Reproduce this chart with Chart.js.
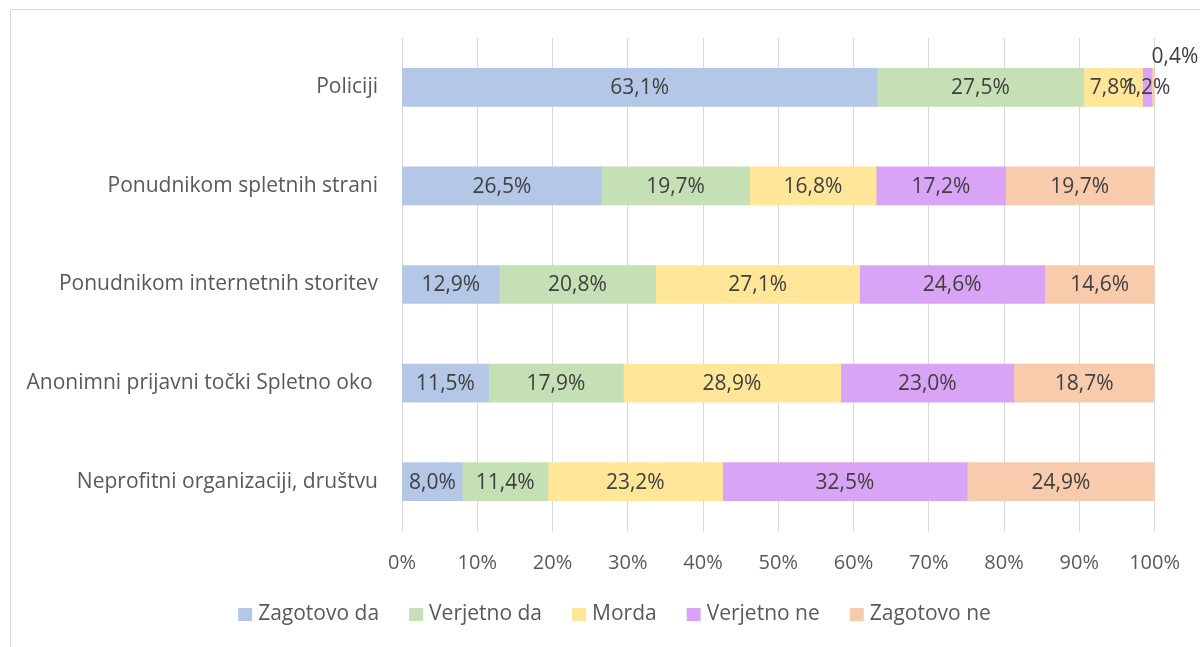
<!DOCTYPE html>
<html><head><meta charset="utf-8">
<script src="https://cdn.jsdelivr.net/npm/chart.js@4.4.1/dist/chart.umd.min.js"></script>
<style>html,body{margin:0;padding:0;background:#fff}#wrap{width:1200px;height:647px;position:relative}</style>
</head><body><div id="wrap"><canvas id="c" width="1200" height="647"></canvas></div>
<script>
const categories = ["Policiji","Ponudnikom spletnih strani","Ponudnikom internetnih storitev","Anonimni prijavni točki Spletno oko ","Neprofitni organizaciji, društvu"];
const seriesNames = ["Zagotovo da","Verjetno da","Morda","Verjetno ne","Zagotovo ne"];
const zagotovoDa = [63.1,26.5,12.9,11.5,8.0];
const verjetnoDa = [27.5,19.7,20.8,17.9,11.4];
const morda = [7.8,16.8,27.1,28.9,23.2];
const verjetnoNe = [1.2,17.2,24.6,23.0,32.5];
const zagotovoNe = [0.4,19.7,14.6,18.7,24.9];
const tickValues = [0,10,20,30,40,50,60,70,80,90,100];
const colors = ["#b4c7e7","#c5e0b4","#ffe699","#d9a4f5","#f8cbad"];
const FONT = "'Open Sans', 'Noto Sans', sans-serif";

const allSeries = [zagotovoDa, verjetnoDa, morda, verjetnoNe, zagotovoNe];
const datasets = allSeries.map((d,i)=>({label:seriesNames[i],data:d,backgroundColor:colors[i],borderWidth:0,barThickness:38}));

const fmt = v => v.toFixed(1).replace('.',',') + '%';

const labelPlugin = {
  id:'labels',
  afterDatasetsDraw(chart){
    const ctx = chart.ctx;
    ctx.save();
    ctx.font = "21px " + FONT;
    ctx.fillStyle = "#404040";
    ctx.textBaseline = "middle";
    chart.data.datasets.forEach((ds,di)=>{
      const meta = chart.getDatasetMeta(di);
      meta.data.forEach((bar,i)=>{
        const v = ds.data[i];
        if (v < 1) {
          ctx.textAlign = "left";
          ctx.fillText(fmt(v), bar.x - 3, bar.y - 30);
        } else {
          ctx.textAlign = "center";
          ctx.fillText(fmt(v), (bar.x + bar.base)/2, bar.y + 1);
        }
      });
    });
    ctx.restore();
  }
};
const legendPlugin = {
  id:'customLegend',
  afterDraw(chart){
    const ctx = chart.ctx;
    ctx.save();
    ctx.font = "21px " + FONT;
    ctx.textBaseline = "middle";
    ctx.textAlign = "left";
    const box = 14, boxH = 13, gapText = 6, gapItem = 30, cx = 614.5, cy = 614.5;
    const items = chart.data.datasets.map(ds=>({t:ds.label,c:ds.backgroundColor,w:ctx.measureText(ds.label).width}));
    const total = items.reduce((s,it)=>s+box+gapText+it.w,0) + gapItem*(items.length-1);
    let x = cx - total/2;
    items.forEach(it=>{
      ctx.fillStyle = it.c;
      ctx.fillRect(x, cy - boxH/2, box, boxH);
      ctx.fillStyle = "#595959";
      ctx.fillText(it.t, x + box + gapText, cy);
      x += box + gapText + it.w + gapItem;
    });
    ctx.restore();
  }
};
const framePlugin = {
  id:'frame',
  beforeDraw(chart){
    const ctx = chart.ctx;
    ctx.save();
    ctx.strokeStyle = "#d9d9d9";
    ctx.lineWidth = 1;
    ctx.beginPath();
    ctx.moveTo(10.5,647); ctx.lineTo(10.5,9.5); ctx.lineTo(1200,9.5);
    ctx.stroke();
    ctx.restore();
  }
};

new Chart(document.getElementById('c'),{
  type:'bar',
  data:{labels:categories,datasets},
  options:{
    responsive:false,animation:false,indexAxis:'y',
    layout:{padding:{left:10,right:45,top:38,bottom:60}},
    plugins:{
      legend:{display:false},
      tooltip:{enabled:false}
    },
    scales:{
      x:{stacked:true,min:0,max:100,
        afterBuildTicks(axis){axis.ticks = tickValues.map(v=>({value:v}));},
        ticks:{callback:v=>v+'%',font:{family:FONT,size:20},color:'#595959',padding:20},
        grid:{color:'#d9d9d9',drawTicks:false},border:{display:false},
        afterFit(axis){axis.height = 56;}
      },
      y:{stacked:true,
        ticks:{font:{family:FONT,size:21},color:'#595959',padding:24},
        grid:{display:false,drawTicks:false},border:{display:false},
        afterFit(axis){axis.width = 392;}
      }
    }
  },
  plugins:[labelPlugin, legendPlugin, framePlugin]
});
</script></body></html>
